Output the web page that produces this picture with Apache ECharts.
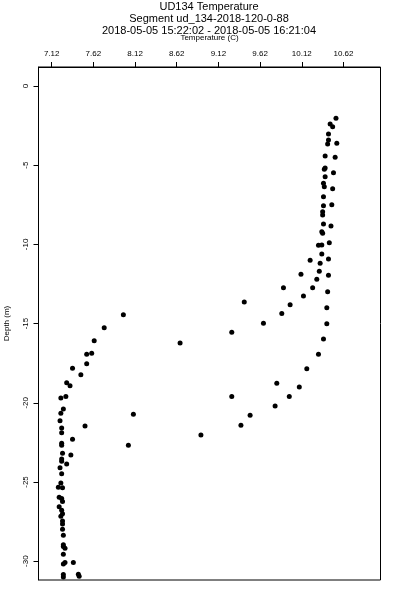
<!DOCTYPE html>
<html>
<head>
<meta charset="utf-8">
<script src="https://cdn.jsdelivr.net/npm/echarts@6/dist/echarts.min.js"></script>
<style>html,body{margin:0;padding:0;background:#fff}#c{width:400px;height:600px}</style>
</head>
<body>
<div id="c"></div>
<script>
const titleLines = ["UD134 Temperature", "Segment ud_134-2018-120-0-88", "2018-05-05 15:22:02 - 2018-05-05 16:21:04"];
const xAxisName = "Temperature (C)";
const yAxisName = "Depth (m)";
const xTicks = [7.12, 7.62, 8.12, 8.62, 9.12, 9.62, 10.12, 10.62];
const yTicks = [0, -5, -10, -15, -20, -25, -30];
const temperature = [
 10.53,10.46,10.49,10.44,10.44,10.43,10.54,10.40,10.52,10.40,10.39,10.50,10.40,10.38,10.39,10.49,10.38,10.38,10.48,10.37,
 10.37,10.38,10.47,10.36,10.37,10.45,10.32,10.36,10.36,10.22,10.44,10.34,10.11,10.33,10.44,10.30,9.90,10.25,10.43,9.43,
 10.14,9.98,10.42,9.88,9.66,10.42,9.28,10.38,10.32,10.18,9.82,10.09,9.28,9.97,9.80,9.50,9.39,8.91,
 7.98,7.75,8.66,7.63,7.60,7.54,7.54,7.37,7.47,7.30,7.34,7.29,7.23,7.26,7.23,8.10,7.22,7.52,7.24,7.24,
 7.37,8.04,7.24,7.24,7.25,7.35,7.24,7.24,7.30,7.22,7.24,7.23,7.20,7.25,7.21,7.24,7.25,7.21,7.24,7.25,
 7.23,7.25,7.25,7.25,7.26,7.26,7.26,7.28,7.26,7.28,7.26,7.38,7.26,7.26,7.44,7.45
];
const depth = [
 -2.04,-2.40,-2.57,-3.03,-3.41,-3.66,-3.62,-4.42,-4.50,-5.18,-5.26,-5.47,-5.73,-6.14,-6.36,-6.48,-6.99,-7.56,-7.49,-7.94,
 -8.14,-8.71,-8.84,-9.20,-9.30,-9.89,-10.06,-10.04,-10.61,-11.00,-10.92,-11.19,-11.89,-11.70,-11.95,-12.20,-12.73,-12.73,-12.99,-13.64,
 -13.26,-13.81,-14.00,-14.37,-14.98,-15.01,-15.55,-15.97,-16.94,-17.85,-18.77,-19.00,-19.61,-19.61,-20.20,-20.79,-21.42,-22.03,
 -14.44,-15.26,-16.22,-16.08,-16.87,-16.94,-17.53,-17.82,-18.23,-18.73,-18.92,-19.61,-19.70,-20.39,-20.66,-20.73,-21.13,-21.46,-21.59,-21.89,
 -22.30,-22.68,-22.56,-22.68,-23.19,-23.30,-23.55,-23.69,-23.86,-24.10,-24.48,-25.06,-25.33,-25.36,-25.97,-26.05,-26.24,-26.56,-26.79,-27.00,
 -27.16,-27.46,-27.65,-27.99,-28.36,-28.96,-29.08,-29.18,-29.56,-30.09,-30.18,-30.09,-30.85,-31.00,-30.83,-30.95
];
const points = temperature.map((t, i) => [t, depth[i]]);
const font = "'Liberation Sans', Arial, sans-serif";
const chart = echarts.init(document.getElementById('c'), null, {renderer: 'canvas'});
chart.setOption({
  animation: false,
  backgroundColor: '#fff',
  title: titleLines.map((t, i) => ({
    text: t, left: 209, textAlign: 'center', top: 1 + i * 12, padding: 0,
    textStyle: {fontFamily: font, fontSize: 11, fontWeight: 'normal', color: '#000'}
  })),
  grid: {left: 38.5, right: 19.5, top: 67, bottom: 20, show: true, borderColor: '#000', borderWidth: 1,
         containLabel: false, outerBoundsMode: 'none'},
  xAxis: {
    type: 'value', position: 'top', min: 6.962, max: 11.064,
    name: xAxisName, nameLocation: 'middle', nameGap: 25,
    nameTextStyle: {fontFamily: font, fontSize: 8, color: '#000'},
    axisLine: {show: true, onZero: false, lineStyle: {color: '#000', width: 1}},
    axisTick: {show: true, length: 5, customValues: xTicks, lineStyle: {color: '#000'}},
    axisLabel: {customValues: xTicks, margin: 9, fontFamily: font, fontSize: 8, color: '#000', formatter: v => v.toFixed(2)},
    splitLine: {show: false}
  },
  yAxis: {
    type: 'value', min: -31.19, max: 1.2,
    name: yAxisName, nameLocation: 'middle', nameGap: 28,
    nameTextStyle: {fontFamily: font, fontSize: 8, color: '#000'},
    axisLine: {show: true, onZero: false, lineStyle: {color: '#000', width: 1}},
    axisTick: {show: true, length: 5, customValues: yTicks, lineStyle: {color: '#000'}},
    axisLabel: {customValues: yTicks, rotate: 90, margin: 9, fontFamily: font, fontSize: 8, color: '#000'},
    splitLine: {show: false}
  },
  series: [{
    type: 'scatter', data: points, symbol: 'circle', symbolSize: 5,
    itemStyle: {color: '#000', opacity: 1}
  }]
});
</script>
</body>
</html>
